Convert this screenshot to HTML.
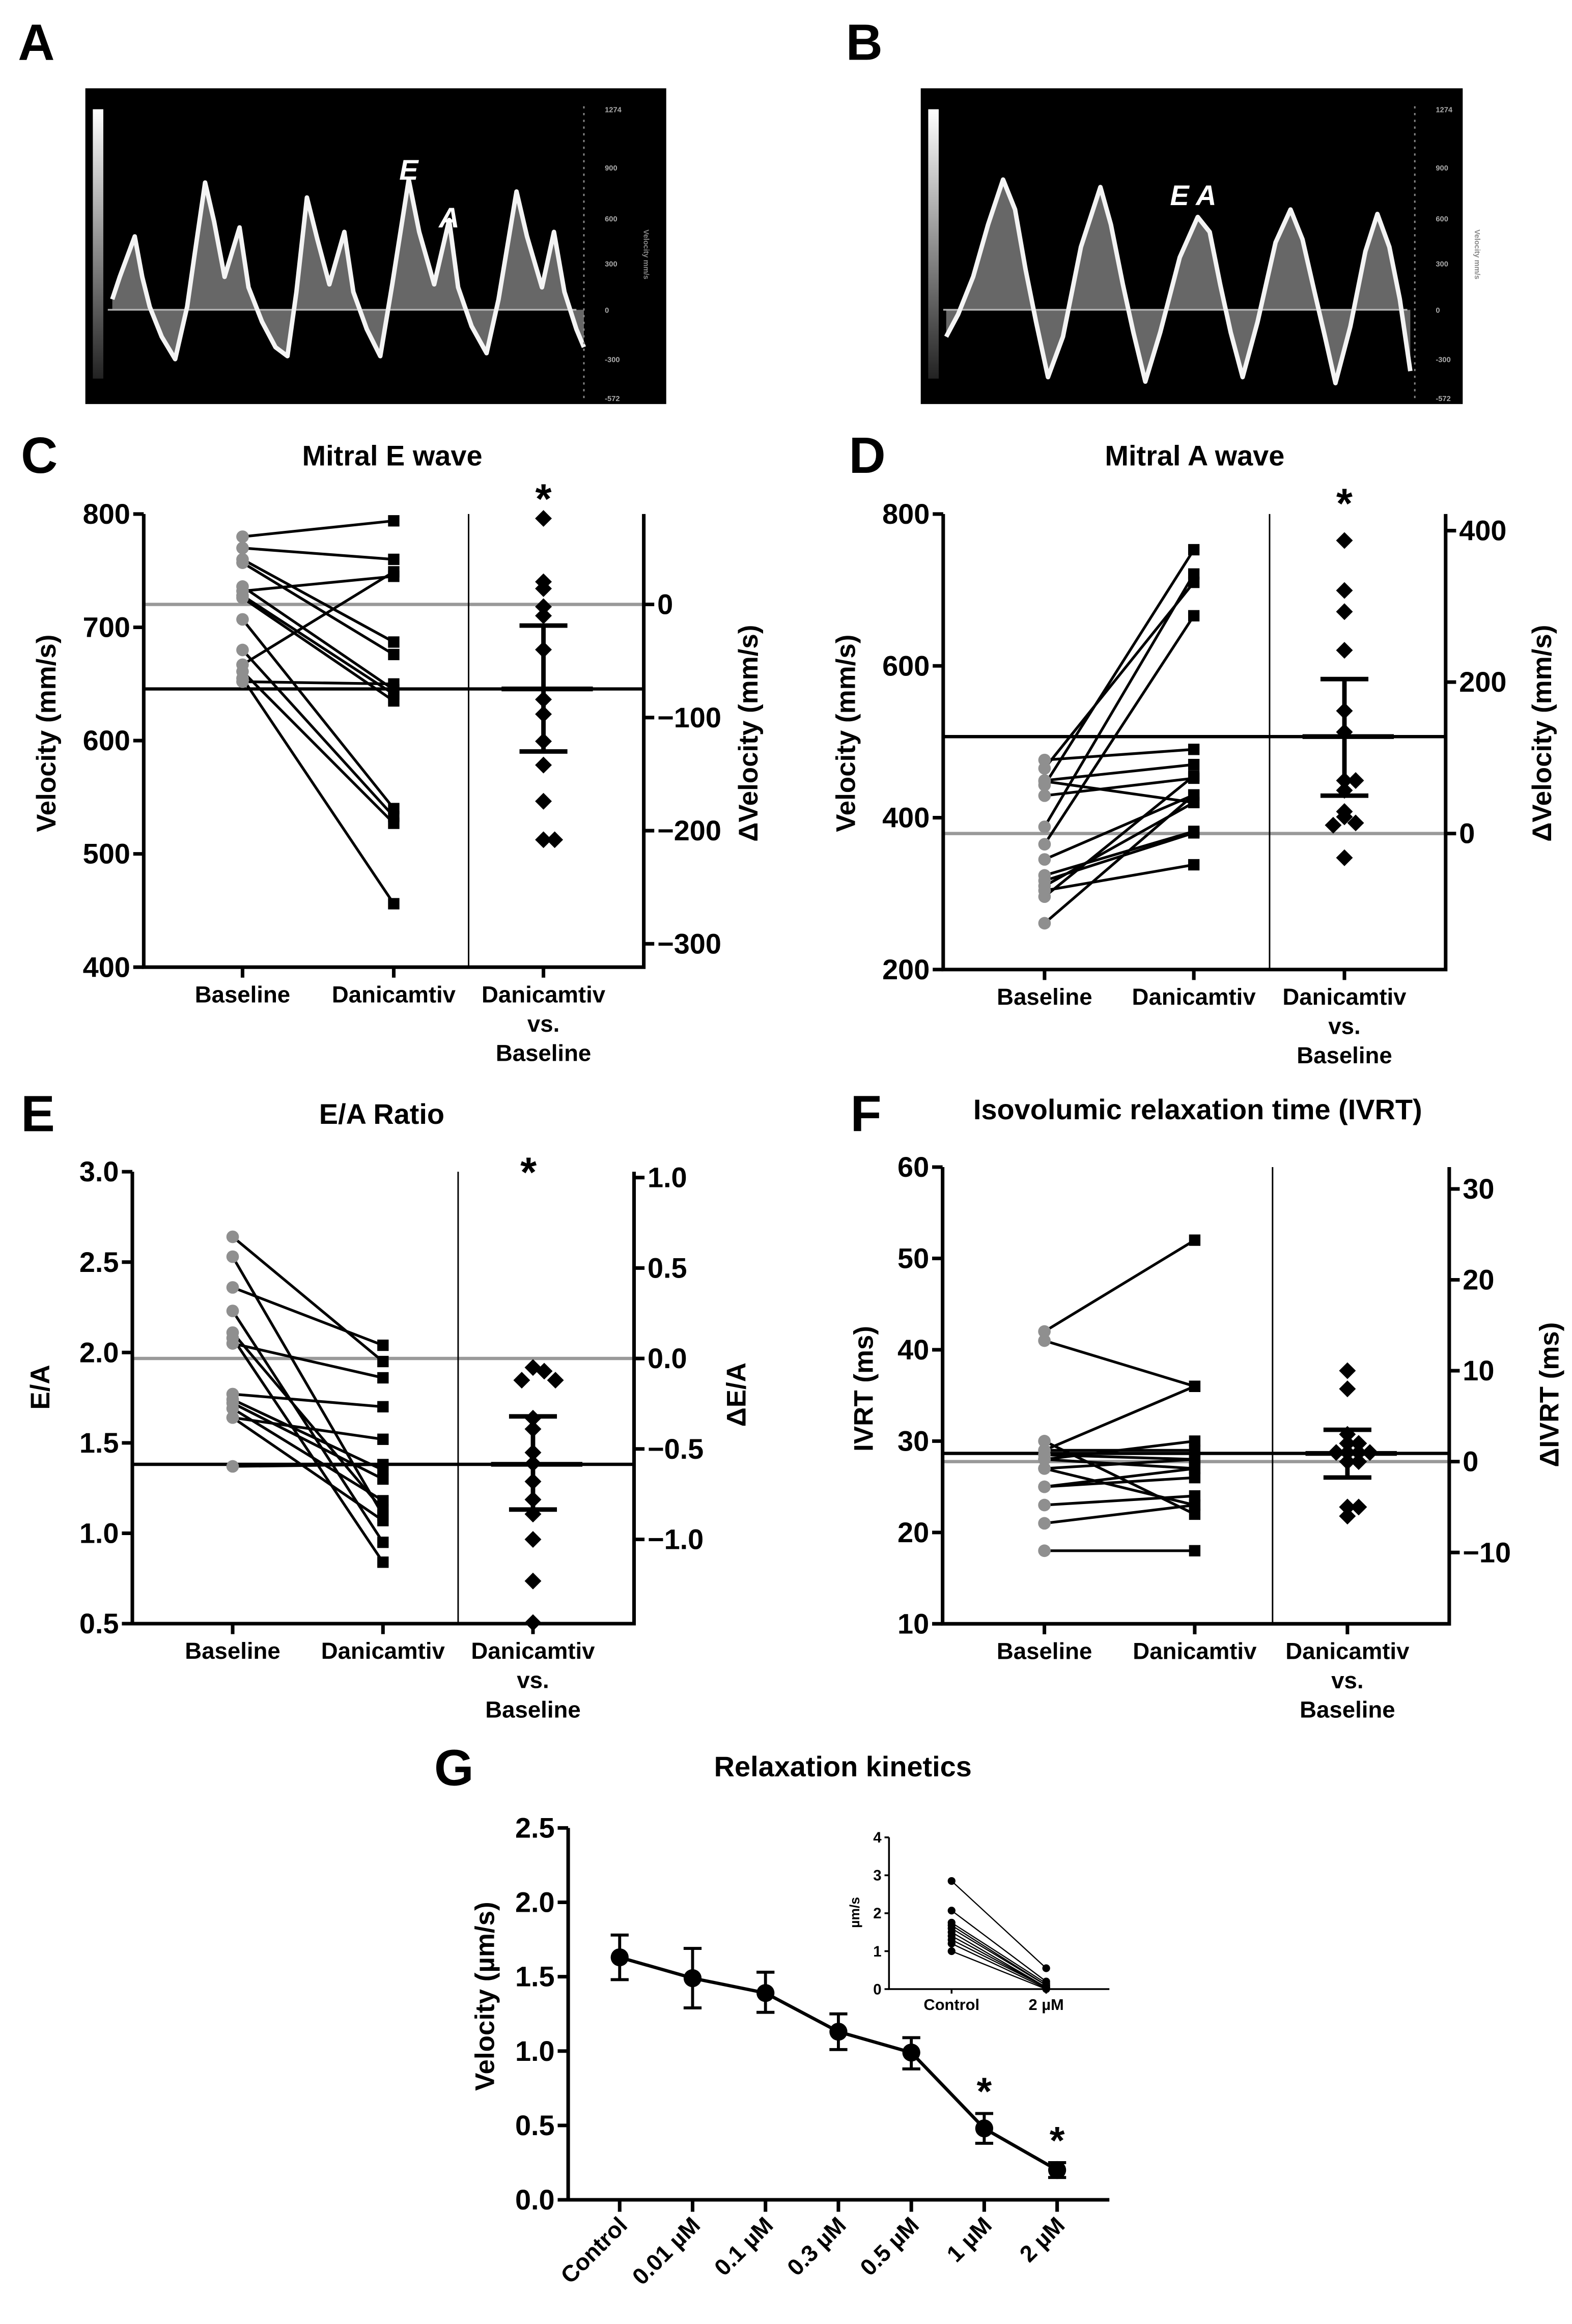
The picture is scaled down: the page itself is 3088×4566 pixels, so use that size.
<!DOCTYPE html>
<html><head><meta charset="utf-8">
<style>
html,body{margin:0;padding:0;background:#fff;}
svg{display:block;}
text{font-family:"Liberation Sans",sans-serif;font-weight:bold;}
.n{font-family:"Liberation Sans Narrow","Liberation Sans",sans-serif;}
</style></head>
<body>
<svg id="fig" xmlns="http://www.w3.org/2000/svg" width="3088" height="4566" viewBox="0 0 1050 1553" preserveAspectRatio="none">
<rect x="0" y="0" width="1050" height="1553" fill="#fff"/>
</svg>
<script>
// ---------- DATA ----------
const pairCats = ["Baseline", "Danicamtiv"];
// Panel C : Mitral E wave (mm/s)
const cBaseline = [780,770,760,757,736,732,728,726,707,680,667,661,655,652];
const cDanicamtiv = [794,760,687,676,645,745,641,635,540,533,749,527,456,650];
const cDelta = [76,14,20,-2,-10,-40,-84,-97,-121,-142,-174,-208,-208];
const cDeltaMean = [-74.7];
const cDeltaSEM = [-18.7, -130];
const cLeftTicks = [400,500,600,700,800];
const cRightTicks = [0,-100,-200,-300];
// Panel D : Mitral A wave
const dBaseline = [476,465,449,448,443,429,388,365,345,324,317,310,304,296,261];
const dDanicamtiv = [490,710,470,420,753,452,721,666,430,382,380,420,338,455,430];
const dDelta = [387,321,293,242,162,134,70,70,57,22,29,14,11,-32];
const dDeltaMean = [128];
const dDeltaSEM = [204, 50];
const dLeftTicks = [200,400,600,800];
const dRightTicks = [0,200,400];
// Panel E : E/A ratio
const eBaseline = [2.64,2.53,2.36,2.23,2.11,2.08,2.05,1.77,1.74,1.69,1.64,1.64,1.37,1.72];
const eDanicamtiv = [1.95,1.10,2.04,0.95,1.13,0.84,1.86,1.70,1.35,1.18,1.52,1.07,1.38,1.30];
const eDelta = [-0.05,-0.07,-0.12,-0.12,-0.33,-0.39,-0.52,-0.58,-0.68,-0.78,-0.86,-1.0,-1.23,-1.46];
const eDeltaMean = [-0.585];
const eDeltaSEM = [-0.32,-0.835];
const eLeftTicks = [0.5,1.0,1.5,2.0,2.5,3.0];
const eRightTicks = [1.0,0.5,0,-0.5,-1.0];
// Panel F : IVRT (ms)
const fBaseline = [42,41,29,30,28,28.5,28,27,27,25,25,23,21,18,29];
const fDanicamtiv = [52,36,36,22,30,28,27,23,28,26,27,24,23,18,29];
const fDelta = [10,8,1,2,3,1,1,1,2,0,0,-6,-5,-5];
const fDeltaMean = [0.9];
const fDeltaSEM = [3.5,-1.75];
const fLeftTicks = [10,20,30,40,50,60];
const fRightTicks = [30,20,10,0,-10];
// Panel G : relaxation kinetics
const gCats = ["Control","0.01 µM","0.1 µM","0.3 µM","0.5 µM","1 µM","2 µM"];
const gMean = [1.63,1.49,1.39,1.13,0.99,0.48,0.20];
const gUpper = [1.78,1.69,1.53,1.25,1.09,0.58,0.25];
const gLower = [1.48,1.29,1.26,1.01,0.88,0.38,0.15];
const gStar = [false,false,false,false,false,true,true];
const gTicks = [0.0,0.5,1.0,1.5,2.0,2.5];
const insetCats = ["Control","2 µM"];
const insetControl = [2.85,2.07,1.75,1.68,1.6,1.5,1.4,1.3,1.2,1.0];
const insetDrug = [0.55,0.2,0.15,0.1,0.1,0.05,0.05,0.05,0.02,0.0];
const insetTicks = [0,1,2,3,4];

// ---------- HELPERS ----------
const NS = "http://www.w3.org/2000/svg";
const svg = document.getElementById('fig');
function mk(tag, attrs, parent){
  const e = document.createElementNS(NS, tag);
  for (const k in attrs) e.setAttribute(k, attrs[k]);
  (parent || svg).appendChild(e);
  return e;
}
function txt(str, attrs, parent){
  const e = mk('text', attrs, parent);
  e.textContent = str;
  return e;
}
function fmtTick(v, dec){
  let s = dec ? v.toFixed(dec) : String(v);
  return s.replace('-', '\u2212');
}

// ---------- ECHO PANELS ----------
function echo(g, x0, x1, y0, y1, base, pts, scaleX, lbls){
  const r = mk('rect',{x:x0,y:y0,width:x1-x0,height:y1-y0,fill:'#000'},g);
  
  
  const grad = mk('rect',{x:x0+5,y:y0+14,width:7,height:180,fill:'url(#gbar)'},g);
  
  
  const bl = mk('line',{x1:x0+15,x2:scaleX-5,y1:base,y2:base,stroke:'#aaa','stroke-width':1.2},g);
  
  
  let d = 'M'+pts[0][0]+','+base;
  pts.forEach(p=>{ d += ' L'+p[0]+','+p[1]; });
  d += ' L'+pts[pts.length-1][0]+','+base+' Z';
  const f = mk('path',{d:d,fill:'#bbb','fill-opacity':0.55,stroke:'none'},g);
  
  
  const l = mk('polyline',{points:pts.map(p=>p.join(',')).join(' '),fill:'none',stroke:'#f4f4f4','stroke-width':3,'stroke-linejoin':'round'},g);
  
  
  const sc = mk('line',{x1:scaleX,x2:scaleX,y1:y0+12,y2:y1-4,stroke:'#888','stroke-width':1,'stroke-dasharray':'1.5 3'},g);
  
  
  lbls.forEach(t=>{
    const e = txt(t[0],{x:scaleX+14,y:t[1]+2,'font-size':5,fill:'#aaa','font-weight':'normal'},g);
    
    
  });
  const vt = txt('Velocity mm/s',{x:0,y:0,'font-size':5,fill:'#888','font-weight':'normal',transform:`translate(${scaleX+40},170) rotate(90)`,'text-anchor':'middle'},g);
  
  
}
const defs = mk('defs',{});
const lg = mk('linearGradient',{id:'gbar',x1:0,y1:0,x2:0,y2:1},defs);
mk('stop',{offset:'0','stop-color':'#fff'},lg);
mk('stop',{offset:'1','stop-color':'#222'},lg);

const gA = mk('g',{});


const aPts = [[75,200],[80,185],[90,158],[95,185],[100,205],[108,225],[117,240],[125,205],[130,170],[137,122],[143,148],[150,185],[160,152],[166,192],[175,215],[184,232],[192,238],[198,195],[205,132],[212,160],[220,190],[230,155],[236,195],[245,220],[254,238],[262,190],[273,120],[280,155],[290,190],[300,147],[306,192],[315,218],[325,236],[333,200],[345,128],[352,158],[362,192],[370,155],[377,195],[385,220],[390,232]];
echo(gA, 57, 445, 59, 270, 207, aPts, 390, [['1274',73],['900',112],['600',146],['300',176],['0',207],['-300',240],['-572',266]]);
const aE = txt('E',{x:273,y:120,'font-size':19,fill:'#fff','font-style':'italic','text-anchor':'middle'},gA);
 
const aA = txt('A',{x:300,y:152,'font-size':19,fill:'#fff','font-style':'italic','text-anchor':'middle'},gA);
 

const gB = mk('g',{});


const bPts = [[632,225],[640,210],[650,185],[660,150],[670,120],[678,140],[685,180],[692,215],[700,252],[710,225],[722,165],[735,125],[742,150],[750,190],[757,222],[765,255],[775,222],[788,172],[800,145],[808,155],[815,190],[822,222],[830,252],[840,215],[852,162],[862,140],[870,160],[878,195],[885,225],[892,256],[902,218],[912,168],[920,143],[928,165],[935,200],[942,248]];
echo(gB, 615, 977, 59, 270, 207, bPts, 945, [['1274',73],['900',112],['600',146],['300',176],['0',207],['-300',240],['-572',266]]);
const bEA = txt('E A',{x:797,y:137,'font-size':19,fill:'#fff','font-style':'italic','text-anchor':'middle'},gB);
 

// ---------- PANEL LABELS ----------
[['A',12,40],['B',565,40],['C',14,316],['D',567,316],['E',14,756],['F',568,756],['G',290,1193]].forEach(p=>{
  const e = txt(p[0],{x:p[1],y:p[2],'font-size':34,fill:'#000'});
  
  
});

// ---------- PAIRED PANELS ----------
function paired(cfg, base, dani, delta, dMean, dSem, lTicks, rTicks){
  const g = mk('g',{});
  
  
  const yL = v => cfg.yL0 + (cfg.vL0 - v) * cfg.kL;
  const yR = v => cfg.yR0 - v * cfg.kR;
  const yTop = yL(cfg.vLmax), yBot = yL(cfg.vLmin);
  const t = txt(cfg.title,{x:cfg.titleX,y:cfg.titleY,'font-size':19,'text-anchor':'middle'},g);
  
  
  const gz = mk('line',{x1:cfg.xL,x2:cfg.xR,y1:yR(0),y2:yR(0),stroke:'#999','stroke-width':2.2},g);
  
  
  const bm = mk('line',{x1:cfg.xL,x2:cfg.xR,y1:yR(dMean[0]),y2:yR(dMean[0]),stroke:'#000','stroke-width':2.2},g);
  
  
  const dv = mk('line',{x1:cfg.xDiv,x2:cfg.xDiv,y1:yTop,y2:yBot,stroke:'#000','stroke-width':1},g);
  
  
  const ax = mk('path',{d:`M${cfg.xL},${yTop} L${cfg.xL},${yBot} L${cfg.xR},${yBot} L${cfg.xR},${yTop}`,fill:'none',stroke:'#000','stroke-width':2.4},g);
  
  
  lTicks.forEach(v=>{
    const tk = mk('line',{x1:cfg.xL-7,x2:cfg.xL,y1:yL(v),y2:yL(v),stroke:'#000','stroke-width':2.4},g);
    
    
    const tl = txt(fmtTick(v,cfg.decL),{x:cfg.xL-9,y:yL(v)+6.5,'font-size':19,'text-anchor':'end',class:'n'},g);
    
    
  });
  rTicks.forEach(v=>{
    const tk = mk('line',{x1:cfg.xR,x2:cfg.xR+7,y1:yR(v),y2:yR(v),stroke:'#000','stroke-width':2.4},g);
    
    
    const tl = txt(fmtTick(v,cfg.decR),{x:cfg.xR+9,y:yR(v)+6.5,'font-size':19,class:'n'},g);
    
    
  });
  cfg.cats.forEach((cx,i)=>{
    const tk = mk('line',{x1:cx,x2:cx,y1:yBot,y2:yBot+7,stroke:'#000','stroke-width':2.4},g);
    
    
  });
  const catLabels = [[pairCats[0]],[pairCats[1]],['Danicamtiv','vs.','Baseline']];
  catLabels.forEach((lines,i)=>{
    lines.forEach((s,j)=>{
      const tl = txt(s,{x:cfg.cats[i],y:yBot+23.5+j*19.6,'font-size':15.5,'text-anchor':'middle'},g);
      
      
    });
  });
  const lt = txt(cfg.lTitle,{x:0,y:0,'font-size':18,'text-anchor':'middle',transform:`translate(${cfg.lTitleX},${cfg.lTitleY}) rotate(-90)`},g);
  
  
  const rt = txt(cfg.rTitle,{x:0,y:0,'font-size':18,'text-anchor':'middle',transform:`translate(${cfg.rTitleX},${cfg.rTitleY}) rotate(-90)`},g);
  
  
  base.forEach((b,i)=>{
    const ln = mk('line',{x1:cfg.cats[0],y1:yL(b),x2:cfg.cats[1],y2:yL(dani[i]),stroke:'#000','stroke-width':1.8},g);
    
    
  });
  base.forEach(b=>{
    const c = mk('circle',{cx:cfg.cats[0],cy:yL(b),r:4.2,fill:'#8f8f8f'},g);
    
    
  });
  dani.forEach(v=>{
    const s = mk('rect',{x:cfg.cats[1]-3.8,y:yL(v)-3.8,width:7.6,height:7.6,fill:'#000'},g);
    
    
  });
  const seen = {};
  delta.forEach(v=>{
    const key = Math.round(yR(v)/9);
    const n = seen[key] || 0; seen[key] = n+1;
    const off = n===0 ? 0 : (n%2 ? 1 : -1) * Math.ceil(n/2) * 7.5;
    const cx = cfg.cats[2] + off, cy = yR(v);
    const dm = mk('path',{d:`M${cx},${cy-5.6} L${cx+5.6},${cy} L${cx},${cy+5.6} L${cx-5.6},${cy} Z`,fill:'#000'},g);
    
    
  });
  const cx = cfg.cats[2];
  const mb = mk('line',{x1:cx-28,x2:cx+33,y1:yR(dMean[0]),y2:yR(dMean[0]),stroke:'#000','stroke-width':3.2},g);
  
  
  const eb = mk('line',{x1:cx,x2:cx,y1:yR(dSem[0]),y2:yR(dSem[1]),stroke:'#000','stroke-width':3},g);
  
  
  dSem.forEach(v=>{
    const cap = mk('line',{x1:cx-16,x2:cx+16,y1:yR(v),y2:yR(v),stroke:'#000','stroke-width':3},g);
    
    
  });
  if (cfg.starY){
    const st = txt('*',{x:cx+(cfg.starDx||0),y:cfg.starY,'font-size':28,'text-anchor':'middle'},g);
    
    
  }
}

paired({name:'panel-c-mitral-e-wave',title:'Mitral E wave',titleX:262,titleY:311,
  xL:96,xR:430,xDiv:313,cats:[162,263,363],
  yL0:343.5,vL0:800,kL:0.757,vLmax:800,vLmin:400,yR0:403.9,kR:0.756,decL:0,decR:0,
  lTitle:'Velocity (mm/s)',lTitleX:37,lTitleY:490,rTitle:'\u0394Velocity (mm/s)',rTitleX:506,rTitleY:490,starY:343},
  cBaseline,cDanicamtiv,cDelta,cDeltaMean,cDeltaSEM,cLeftTicks,cRightTicks);

paired({name:'panel-d-mitral-a-wave',title:'Mitral A wave',titleX:798,titleY:311,
  xL:630,xR:965.6,xDiv:848,cats:[697.7,797.4,898],
  yL0:343.5,vL0:800,kL:0.5073,vLmax:800,vLmin:200,yR0:557,kR:0.506,decL:0,decR:0,
  lTitle:'Velocity (mm/s)',lTitleX:571,lTitleY:490,rTitle:'\u0394Velocity (mm/s)',rTitleX:1036,rTitleY:490,starY:346},
  dBaseline,dDanicamtiv,dDelta,dDeltaMean,dDeltaSEM,dLeftTicks,dRightTicks);

paired({name:'panel-e-ea-ratio',title:'E/A Ratio',titleX:255,titleY:751,
  xL:88.4,xR:423.5,xDiv:306,cats:[155.4,255.8,356],
  yL0:783,vL0:3.0,kL:120.8,vLmax:3.0,vLmin:0.5,yR0:907.8,kR:120.9,decL:1,decR:1,
  lTitle:'E/A',lTitleX:33,lTitleY:927,rTitle:'\u0394E/A',rTitleX:498,rTitleY:932,starY:793,starDx:-3},
  eBaseline,eDanicamtiv,eDelta,eDeltaMean,eDeltaSEM,eLeftTicks,eRightTicks);

paired({name:'panel-f-ivrt',title:'Isovolumic relaxation time (IVRT)',titleX:800,titleY:748,
  xL:629.6,xR:968,xDiv:850,cats:[697.6,798,900],
  yL0:779.9,vL0:60,kL:6.104,vLmax:60,vLmin:10,yR0:976.7,kR:6.073,decL:0,decR:0,
  lTitle:'IVRT (ms)',lTitleX:583,lTitleY:928,rTitle:'\u0394IVRT (ms)',rTitleX:1041,rTitleY:932,starY:0},
  fBaseline,fDanicamtiv,fDelta,fDeltaMean,fDeltaSEM,fLeftTicks,fRightTicks);

// ---------- PANEL G ----------
(function(){
  const g = mk('g',{});
  
  
  const xAxis = 379.5, xEnd = 741, x0 = 413.9, dx = 48.7;
  const xc = i => x0 + i*dx;
  const y = v => 1470 - v * 99.4;
  const t = txt('Relaxation kinetics',{x:563,y:1187,'font-size':19,'text-anchor':'middle'},g);
  
  
  const ax = mk('path',{d:`M${xAxis},${y(2.5)} L${xAxis},${y(0)} L${xEnd},${y(0)}`,fill:'none',stroke:'#000','stroke-width':2.4},g);
  
  
  gTicks.forEach(v=>{
    const tk = mk('line',{x1:xAxis-7,x2:xAxis,y1:y(v),y2:y(v),stroke:'#000','stroke-width':2.4},g);
    
    
    const tl = txt(v.toFixed(1),{x:xAxis-9,y:y(v)+6.5,'font-size':19,'text-anchor':'end',class:'n'},g);
    
    
  });
  const yt = txt('Velocity (µm/s)',{x:0,y:0,'font-size':18,'text-anchor':'middle',transform:`translate(330,1334) rotate(-90)`},g);
  
  
  gCats.forEach((c,i)=>{
    const tk = mk('line',{x1:xc(i),x2:xc(i),y1:y(0),y2:y(0)+8,stroke:'#000','stroke-width':2.4},g);
    
    
    const tl = txt(c,{x:0,y:0,'font-size':15.5,'text-anchor':'end',transform:`translate(${xc(i)+6},${y(0)+18}) rotate(-45)`},g);
    
    
  });
  const pl = mk('polyline',{points:gMean.map((v,i)=>xc(i)+','+y(v)).join(' '),fill:'none',stroke:'#000','stroke-width':2.2},g);
  
  
  gMean.forEach((v,i)=>{
    const eb = mk('path',{d:`M${xc(i)},${y(gUpper[i])} L${xc(i)},${y(gLower[i])} M${xc(i)-6},${y(gUpper[i])} L${xc(i)+6},${y(gUpper[i])} M${xc(i)-6},${y(gLower[i])} L${xc(i)+6},${y(gLower[i])}`,fill:'none',stroke:'#000','stroke-width':2},g);
    
    
    const pt = mk('circle',{cx:xc(i),cy:y(v),r:6,fill:'#000'},g);
    
    
    if (gStar[i]){
      const st = txt('*',{x:xc(i),y:y(gUpper[i])-6,'font-size':26,'text-anchor':'middle'},g);
      
      
    }
  });
  const ig = mk('g',{},g);
  
  
  const ix = 593.8, iEnd = 741, iy = v => 1329.2 - v * 25.35;
  const ixc = [635.6, 698.8];
  const iax = mk('path',{d:`M${ix},${iy(4)} L${ix},${iy(0)} L${iEnd},${iy(0)}`,fill:'none',stroke:'#000','stroke-width':1.2},ig);
  
  
  insetTicks.forEach(v=>{
    const tk = mk('line',{x1:ix-3,x2:ix,y1:iy(v),y2:iy(v),stroke:'#000','stroke-width':1.2},ig);
    
    
    const tl = txt(String(v),{x:ix-5,y:iy(v)+3.5,'font-size':10,'text-anchor':'end',class:'n'},ig);
    
    
  });
  insetCats.forEach((c,i)=>{
    const tk = mk('line',{x1:ixc[i],x2:ixc[i],y1:iy(0),y2:iy(0)+3,stroke:'#000','stroke-width':1.2},ig);
    
    
    const tl = txt(c,{x:ixc[i],y:iy(0)+14,'font-size':10.5,'text-anchor':'middle',class:'n'},ig);
    
    
  });
  const iyt = txt('µm/s',{x:0,y:0,'font-size':9,'text-anchor':'middle',transform:`translate(574,1278) rotate(-90)`},ig);
  
  
  insetControl.forEach((v,i)=>{
    const ln = mk('line',{x1:ixc[0],y1:iy(v),x2:ixc[1],y2:iy(insetDrug[i]),stroke:'#000','stroke-width':0.8},ig);
    
    
  });
  insetControl.forEach(v=>{
    const c = mk('circle',{cx:ixc[0],cy:iy(v),r:2.6,fill:'#000'},ig);
    
    
  });
  insetDrug.forEach(v=>{
    const c = mk('circle',{cx:ixc[1],cy:iy(v),r:2.6,fill:'#000'},ig);
    
    
  });
})();
</script>
</body></html>
